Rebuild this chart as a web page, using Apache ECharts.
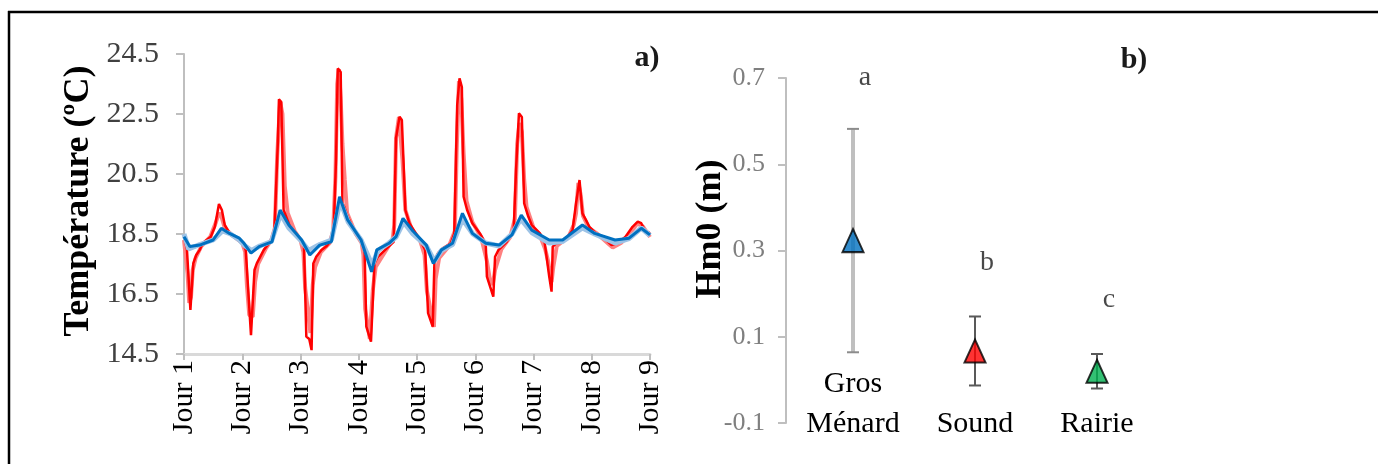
<!DOCTYPE html>
<html>
<head>
<meta charset="utf-8">
<script src="https://cdn.jsdelivr.net/npm/echarts@6/dist/echarts.min.js"></script>
<style>
html,body{margin:0;padding:0;background:#fff;}
#chart{width:1378px;height:464px;}
</style>
</head>
<body>
<div id="chart"></div>
<script>
// ---------- Panel a) temperature ----------
const dayLabels = ['Jour 1','Jour 2','Jour 3','Jour 4','Jour 5','Jour 6','Jour 7','Jour 8','Jour 9'];
const tempTicksBase = 14.5;

const tempRed = [
[1.00,18.41],[1.05,18.0],[1.11,15.97],[1.16,17.52],[1.21,17.80],[1.27,17.97],[1.32,18.19],[1.46,18.41],[1.53,18.74],[1.60,19.50],[1.65,19.30],[1.70,18.80],[1.80,18.47],[2.00,18.24],[2.06,17.97],[2.15,15.13],[2.21,17.30],[2.25,17.52],[2.37,17.97],[2.48,18.24],[2.55,18.52],[2.61,21.5],[2.63,22.99],[2.67,22.9],[2.71,19.30],[2.82,18.74],[2.96,18.36],
[3.02,18.24],[3.06,18.08],[3.10,15.08],[3.15,15.0],[3.19,14.63],[3.22,17.52],[3.27,17.74],[3.36,17.97],[3.44,18.08],[3.53,18.30],[3.57,18.63],[3.61,21.0],[3.64,24.02],[3.69,23.9],[3.72,19.52],[3.75,19.41],[3.81,19.08],[3.89,18.74],[4.04,18.24],[4.10,17.97],[4.13,15.41],[4.21,14.91],[4.27,17.52],[4.33,17.74],[4.48,18.02],[4.60,18.24],[4.64,21.7],[4.70,22.41],[4.74,22.3],[4.77,20.86],[4.80,19.30],[4.87,18.86],[4.96,18.58],
[5.07,18.24],[5.14,17.97],[5.19,15.86],[5.27,15.41],[5.30,17.63],[5.36,17.86],[5.44,18.02],[5.58,18.19],[5.64,18.52],[5.69,22.8],[5.73,23.69],[5.77,23.4],[5.80,19.74],[5.86,19.30],[5.95,18.86],[6.08,18.52],[6.18,18.19],[6.20,17.08],[6.31,16.41],[6.34,17.74],[6.40,17.97],[6.54,18.24],[6.66,18.63],[6.70,20.63],[6.75,22.52],[6.80,22.4],[6.84,19.52],[6.91,19.08],[6.97,18.80],
[7.11,18.52],[7.14,18.41],[7.19,18.24],[7.27,17.08],[7.31,16.58],[7.33,18.08],[7.39,18.19],[7.48,18.21],[7.59,18.41],[7.67,18.63],[7.73,19.52],[7.79,20.30],[7.84,19.19],[7.90,18.97],[7.96,18.74],[8.07,18.52],[8.19,18.41],[8.28,18.24],[8.34,18.13],[8.46,18.21],[8.58,18.41],[8.70,18.74],[8.79,18.91],[8.85,18.86],[8.91,18.63],[9.00,18.52]
];

const tempPink = [
[1.00,18.3],[1.06,17.2],[1.09,16.2],[1.12,16.4],[1.15,17.3],[1.20,17.7],[1.30,18.1],[1.45,18.4],[1.55,18.9],[1.60,19.2],[1.64,19.1],[1.70,18.7],[1.80,18.5],[2.00,18.2],[2.05,17.9],[2.08,16.8],[2.12,15.8],[2.18,15.74],[2.22,16.9],[2.27,17.5],[2.40,18.0],[2.50,18.3],[2.56,18.7],[2.60,21.1],[2.65,22.9],[2.69,22.5],[2.73,20.1],[2.78,19.2],[2.90,18.6],[3.00,18.3],
[3.05,17.9],[3.08,16.7],[3.13,15.9],[3.17,15.2],[3.21,16.8],[3.25,17.4],[3.35,17.9],[3.50,18.2],[3.56,18.6],[3.60,20.4],[3.63,23.5],[3.66,24.0],[3.69,23.0],[3.72,21.5],[3.76,20.3],[3.80,19.2],[3.95,18.5],[4.05,18.2],[4.08,17.8],[4.11,16.0],[4.19,15.0],[4.24,16.6],[4.29,17.4],[4.45,17.9],[4.58,18.3],[4.61,18.8],[4.64,21.7],[4.69,22.4],[4.75,21.0],[4.80,19.3],[4.90,18.7],[5.05,18.3],
[5.13,17.8],[5.17,16.6],[5.24,15.9],[5.29,15.4],[5.32,17.0],[5.38,17.7],[5.55,18.1],[5.65,18.6],[5.68,21.2],[5.72,23.6],[5.76,23.0],[5.80,21.2],[5.85,19.6],[5.95,18.9],[6.10,18.4],[6.20,17.6],[6.25,17.0],[6.30,16.8],[6.34,17.3],[6.45,18.0],[6.60,18.4],[6.68,19.0],[6.72,21.5],[6.76,22.2],[6.80,21.9],[6.84,20.3],[6.88,19.4],[7.00,18.7],[7.10,18.5],
[7.20,18.0],[7.25,17.6],[7.31,16.9],[7.34,17.4],[7.40,18.1],[7.60,18.4],[7.69,18.8],[7.73,19.2],[7.77,20.2],[7.81,19.8],[7.85,19.1],[7.95,18.7],[8.10,18.5],[8.30,18.15],[8.36,18.05],[8.50,18.2],[8.65,18.5],[8.78,18.85],[8.88,18.75],[9.00,18.4]
];

const tempBlue = [
[1.00,18.41],[1.10,18.08],[1.27,18.13],[1.50,18.30],[1.64,18.69],[1.78,18.52],[1.95,18.36],[2.03,18.19],[2.15,17.86],[2.29,18.08],[2.51,18.24],[2.65,19.30],[2.80,18.80],[3.02,18.30],[3.16,17.80],[3.33,18.13],[3.53,18.24],[3.67,19.74],[3.81,18.97],[4.04,18.30],[4.22,17.24],[4.31,17.97],[4.52,18.19],[4.64,18.41],[4.76,19.02],[4.93,18.60],[5.16,18.13],[5.28,17.52],[5.42,17.97],[5.61,18.19],[5.78,19.19],[5.95,18.52],[6.18,18.19],[6.41,18.13],[6.63,18.47],[6.79,19.13],[6.97,18.63],[7.27,18.30],[7.50,18.30],[7.84,18.80],[8.05,18.52],[8.40,18.30],[8.64,18.36],[8.85,18.69],[9.00,18.47]
];

const tempLightBlue = [
[1.00,18.5],[1.08,18.0],[1.27,18.15],[1.50,18.3],[1.66,18.6],[1.80,18.5],[1.95,18.3],[2.05,18.1],[2.16,17.95],[2.30,18.1],[2.50,18.25],[2.63,19.0],[2.68,19.1],[2.80,18.7],[3.00,18.3],[3.14,17.95],[3.33,18.15],[3.53,18.3],[3.66,19.4],[3.70,19.5],[3.82,18.9],[4.04,18.3],[4.20,17.6],[4.24,17.5],[4.33,17.95],[4.52,18.2],[4.64,18.4],[4.77,18.9],[4.93,18.5],[5.16,18.1],[5.27,17.7],[5.30,17.6],[5.42,17.95],[5.61,18.15],[5.78,19.0],[5.96,18.5],[6.18,18.2],[6.41,18.1],[6.63,18.5],[6.78,19.0],[6.97,18.55],[7.27,18.2],[7.50,18.25],[7.84,18.7],[8.05,18.5],[8.40,18.2],[8.64,18.35],[8.85,18.7],[9.00,18.45]
];

// ---------- Panel b) Hm0 ----------
const sites = ['Gros\nMénard', 'Sound', 'Rairie'];
const hm0Mean = [0.323, 0.067, 0.020];
const hm0Err = [0.259, 0.080, 0.040];
const groupLetters = ['a', 'b', 'c'];
const letterLevel = [0.70, 0.273, 0.185];
const hm0AxisBase = -0.1;

const siteColors = ['#0070C0', '#FF0000', '#00B050'];
const serif = '"Liberation Serif", "Times New Roman", serif';

const shiftT = arr => arr.map(p => [p[0], p[1] - tempTicksBase]);
const shiftH = v => v - hm0AxisBase;

const chart = echarts.init(document.getElementById('chart'), null, {renderer: 'canvas'});

const option = {
  animation: false,
  backgroundColor: '#ffffff',
  grid: [
    {left: 184, top: 54, width: 466, height: 300},
    {left: 792, top: 78, width: 366, height: 345}
  ],
  xAxis: [
    {
      type: 'value', gridIndex: 0, min: 1, max: 9, interval: 1,
      axisLine: {show: true, lineStyle: {color: '#D9D9D9', width: 3}},
      axisTick: {show: true, length: 6, lineStyle: {color: '#BFBFBF', width: 2}},
      splitLine: {show: false},
      axisLabel: {
        rotate: 90, margin: 6, color: '#000', fontSize: 30, fontFamily: serif,
        formatter: v => dayLabels[Math.round(v) - 1]
      }
    },
    {
      type: 'category', gridIndex: 1, data: sites, boundaryGap: true,
      axisLine: {show: false}, axisTick: {show: false}, splitLine: {show: false},
      axisLabel: {
        interval: 0, color: '#000', fontSize: 30, fontFamily: serif,
        lineHeight: 40, verticalAlign: 'bottom', margin: 21
      }
    }
  ],
  yAxis: [
    {
      type: 'value', gridIndex: 0, min: 0, max: 10, interval: 2,
      axisLine: {show: true, lineStyle: {color: '#BFBFBF', width: 2}},
      axisTick: {show: true, length: 8, lineStyle: {color: '#BFBFBF', width: 2}},
      splitLine: {show: false},
      axisLabel: {
        margin: 25, color: '#404040', fontSize: 30, fontFamily: serif,
        formatter: v => (v + tempTicksBase).toFixed(1)
      }
    },
    {
      type: 'value', gridIndex: 1, min: 0, max: 0.8, interval: 0.2, offset: 6,
      axisLine: {show: true, lineStyle: {color: '#BFBFBF', width: 2}},
      axisTick: {show: true, length: 8, lineStyle: {color: '#BFBFBF', width: 2}},
      splitLine: {show: false},
      axisLabel: {
        margin: 21, color: '#7F7F7F', fontSize: 26, fontFamily: serif,
        formatter: v => (v + hm0AxisBase).toFixed(1)
      }
    }
  ],
  series: [
    {type: 'line', xAxisIndex: 0, yAxisIndex: 0, data: shiftT(tempPink), showSymbol: false,
     lineStyle: {color: '#FF8080', width: 4}, z: 2},
    {type: 'line', xAxisIndex: 0, yAxisIndex: 0, data: shiftT(tempRed), showSymbol: false,
     lineStyle: {color: '#FF0000', width: 2.5}, z: 3},
    {type: 'line', xAxisIndex: 0, yAxisIndex: 0, data: shiftT(tempLightBlue), showSymbol: false,
     lineStyle: {color: '#9DC3E6', width: 5}, z: 4},
    {type: 'line', xAxisIndex: 0, yAxisIndex: 0, data: shiftT(tempBlue), showSymbol: false,
     lineStyle: {color: '#0070C0', width: 3}, z: 5},
    {
      type: 'custom', xAxisIndex: 1, yAxisIndex: 1, z: 3,
      data: sites.map((s, i) => [i, shiftH(hm0Mean[i] - hm0Err[i]), shiftH(hm0Mean[i] + hm0Err[i])]),
      renderItem: (params, api) => {
        const i = api.value(0);
        const lo = api.coord([i, api.value(1)]);
        const hi = api.coord([i, api.value(2)]);
        const main = params.dataIndex === 0;
        const cap = 6;
        return {
          type: 'group',
          children: [
            {type: 'line', shape: {x1: lo[0], y1: lo[1], x2: hi[0], y2: hi[1]},
             style: {stroke: main ? '#BFBFBF' : '#595959', lineWidth: main ? 4 : 2}},
            {type: 'line', shape: {x1: lo[0] - cap, y1: lo[1], x2: lo[0] + cap, y2: lo[1]},
             style: {stroke: main ? '#8C8C8C' : '#595959', lineWidth: 2}},
            {type: 'line', shape: {x1: hi[0] - cap, y1: hi[1], x2: hi[0] + cap, y2: hi[1]},
             style: {stroke: main ? '#8C8C8C' : '#595959', lineWidth: 2}}
          ]
        };
      }
    },
    {
      type: 'scatter', xAxisIndex: 1, yAxisIndex: 1, z: 5,
      symbol: 'triangle', symbolSize: [21, 23],
      data: sites.map((s, i) => ({
        value: [i, shiftH(hm0Mean[i])],
        itemStyle: {color: siteColors[i], borderColor: '#000', borderWidth: 2}
      }))
    },
    {
      type: 'scatter', xAxisIndex: 1, yAxisIndex: 1, z: 6,
      symbolSize: 0, silent: true,
      data: sites.map((s, i) => [i, shiftH(letterLevel[i])]),
      label: {
        show: true, position: 'inside', offset: [12, 0],
        formatter: p => groupLetters[p.dataIndex],
        color: '#1a1a1a', fontSize: 28, fontFamily: serif
      }
    }
  ],
  graphic: [
    {type: 'line', shape: {x1: 8, y1: 12, x2: 1378, y2: 12}, style: {stroke: '#000', lineWidth: 2.5}},
    {type: 'line', shape: {x1: 9, y1: 11, x2: 9, y2: 464}, style: {stroke: '#000', lineWidth: 2.5}},
    {type: 'text', x: 79, y: 201, rotation: Math.PI / 2,
     style: {text: 'Température (ºC)', fontSize: 36, fontWeight: 'bold', fontFamily: serif,
             fill: '#000', align: 'center', verticalAlign: 'middle'}},
    {type: 'text', x: 711, y: 229, rotation: Math.PI / 2,
     style: {text: 'Hm0 (m)', fontSize: 36, fontWeight: 'bold', fontFamily: serif,
             fill: '#000', align: 'center', verticalAlign: 'middle'}},
    {type: 'text', x: 647, y: 58,
     style: {text: 'a)', fontSize: 30, fontWeight: 'bold', fontFamily: serif, fill: '#1a1a1a', align: 'center', verticalAlign: 'middle'}},
    {type: 'text', x: 1134, y: 60,
     style: {text: 'b)', fontSize: 30, fontWeight: 'bold', fontFamily: serif, fill: '#1a1a1a', align: 'center', verticalAlign: 'middle'}}
  ]
};

chart.setOption(option);
</script>
</body>
</html>
